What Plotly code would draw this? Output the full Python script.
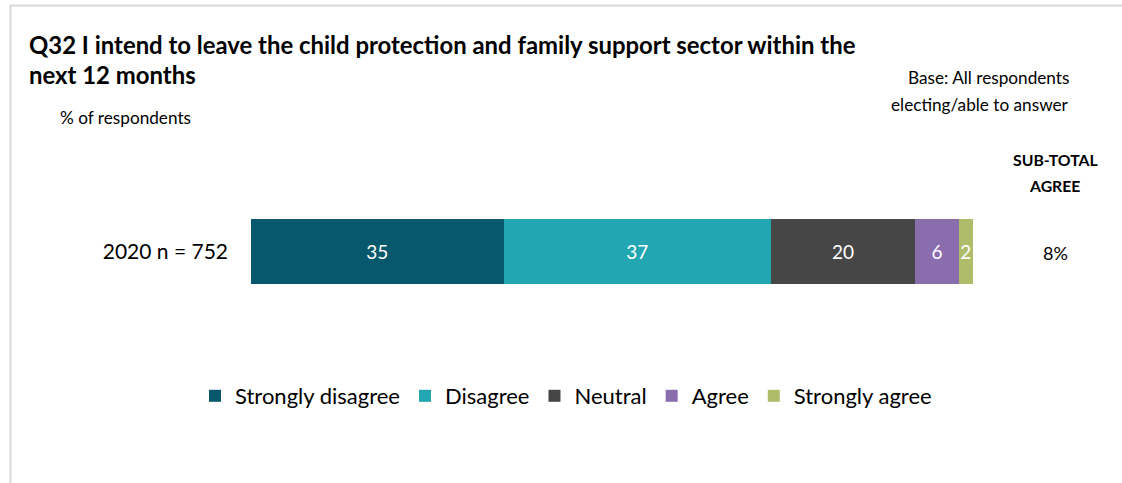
import plotly.graph_objects as go

# Survey response shares (percent of respondents)
category = ["2020 n = 752"]
responses = ["Strongly disagree", "Disagree", "Neutral", "Agree", "Strongly agree"]
values = [35, 37, 20, 6, 2]
colors = ["#07586C", "#21A6B2", "#464646", "#8A6DAD", "#AFBD6A"]
subtotal_agree = "8%"

W, H = 1122, 483
FONT = "Lato"

fig = go.Figure()
for name, val, col in zip(responses, values, colors):
    fig.add_trace(go.Bar(
        y=category, x=[val], name=name, orientation="h",
        marker=dict(color=col, line=dict(width=0)),
        width=0.78,
        text=[val], texttemplate="%{text}", textposition="inside",
        insidetextanchor="middle", textangle=0, constraintext="none",
        textfont=dict(color="white", size=19, family=FONT),
        hoverinfo="skip",
    ))

def px_x(x):
    return x / W

def px_y(y):
    return 1 - y / H

annotations = [
    dict(text="<b>Q32 I intend to leave the child protection and family support sector within the</b>",
         x=px_x(27), y=px_y(45), xanchor="left", yanchor="middle", font=dict(size=23.9)),
    dict(text="<b>next 12 months</b>",
         x=px_x(27), y=px_y(75), xanchor="left", yanchor="middle", font=dict(size=23.9)),
    dict(text="% of respondents",
         x=px_x(58), y=px_y(117), xanchor="left", yanchor="middle", font=dict(size=17.2)),
    dict(text="Base: All respondents",
         x=px_x(1071), y=px_y(77), xanchor="right", yanchor="middle", font=dict(size=17.2)),
    dict(text="electing/able to answer",
         x=px_x(1071), y=px_y(105), xanchor="right", yanchor="middle", font=dict(size=17.2)),
    dict(text="<b>SUB-TOTAL</b>",
         x=px_x(1055), y=px_y(159), xanchor="center", yanchor="middle", font=dict(size=15.8)),
    dict(text="<b>AGREE</b>",
         x=px_x(1054), y=px_y(185), xanchor="center", yanchor="middle", font=dict(size=15.8)),
    dict(text=subtotal_agree,
         x=px_x(1055), y=px_y(253), xanchor="center", yanchor="middle", font=dict(size=18)),
]
for a in annotations:
    a.update(xref="paper", yref="paper", showarrow=False)
    a["font"].update(family=FONT, color="#000000")

# Frame lines along the top and left edges
shapes = [
    dict(type="line", xref="paper", yref="paper", x0=px_x(10), x1=1.0,
         y0=px_y(5.5), y1=px_y(5.5), line=dict(color="#D9D9D9", width=2)),
    dict(type="line", xref="paper", yref="paper", x0=px_x(10.5), x1=px_x(10.5),
         y0=px_y(5), y1=0, line=dict(color="#D9D9D9", width=2)),
]

# Bar centre at 251.5 px from top; scale chosen so a 0.78-wide bar spans ~65 px
unit = 65 / 0.78
centre_from_bottom = H - 251.5
y_lo = -centre_from_bottom / unit
y_hi = (H - centre_from_bottom) / unit

fig.update_layout(
    width=W, height=H,
    margin=dict(l=0, r=0, t=0, b=0),
    paper_bgcolor="white", plot_bgcolor="white",
    barmode="stack",
    font=dict(family=FONT, color="#000000"),
    xaxis=dict(domain=[251 / W, 973 / W], range=[0, 100], visible=False, fixedrange=True),
    yaxis=dict(range=[y_lo, y_hi], showgrid=False, zeroline=False, showline=False,
               ticks="", tickfont=dict(size=21, family=FONT, color="#000000"),
               ticklabelstandoff=22, fixedrange=True),
    legend=dict(orientation="h", x=0.5 + 5 / W, xanchor="center", y=px_y(396), yanchor="middle",
                font=dict(size=22, family=FONT, color="#000000"),
                traceorder="normal", itemwidth=30, bgcolor="rgba(0,0,0,0)"),
    annotations=annotations,
    shapes=shapes,
    showlegend=True,
)

fig.write_html("out.html")
